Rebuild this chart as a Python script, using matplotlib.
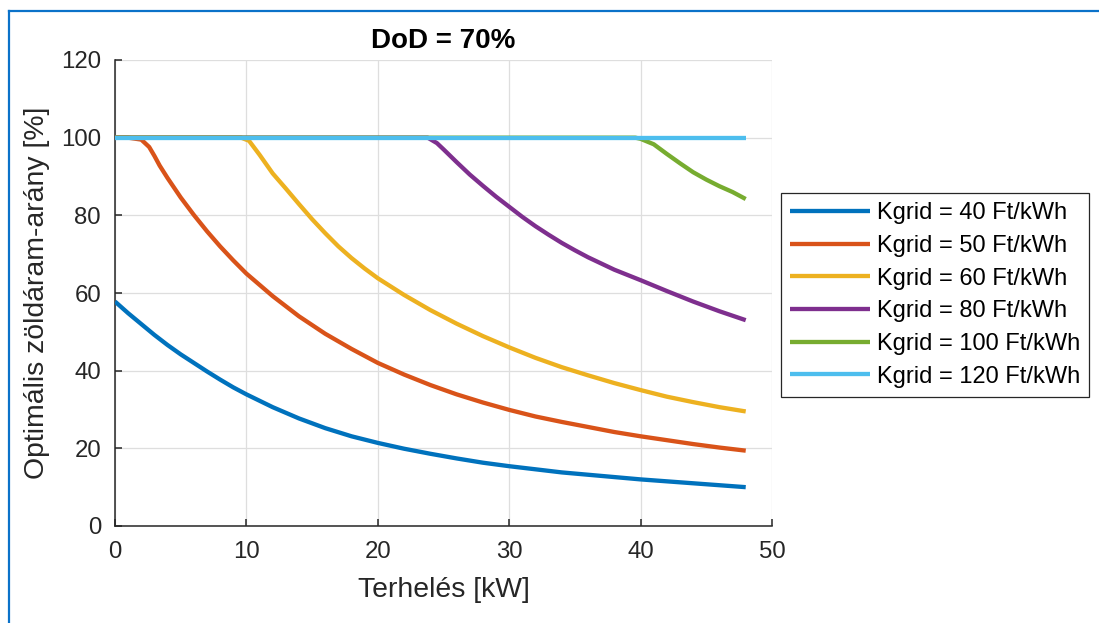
import matplotlib
matplotlib.use("Agg")
from matplotlib import pyplot as plt
from matplotlib.lines import Line2D

plt.rcParams["font.family"] = ["Liberation Sans", "DejaVu Sans"]

# Values
blue_x = [0, 1, 2, 3, 4, 5, 6, 7, 8, 9, 10, 12, 14, 16, 18, 20, 22, 24, 26, 28, 30, 32, 34, 36,
          38, 40, 42, 44, 46, 48]
blue_y = [57.8, 54.8, 52.0, 49.2, 46.6, 44.2, 42.0, 39.8, 37.7, 35.7, 33.9, 30.6, 27.7, 25.2,
          23.1, 21.4, 19.9, 18.6, 17.4, 16.3, 15.4, 14.6, 13.8, 13.2, 12.6, 12.0, 11.5, 11.0,
          10.5, 10.0]

orange_x = [0, 1, 2, 2.6, 3.0, 3.4, 4, 5, 6, 7, 8, 9, 10, 12, 14, 16, 18, 20, 22, 24, 26, 28,
            30, 32, 34, 36, 38, 40, 42, 44, 46, 48]
orange_y = [100, 100, 99.5, 97.6, 95.3, 92.8, 89.6, 84.6, 80.1, 75.9, 72.0, 68.4, 65.0, 59.2,
            54.0, 49.5, 45.6, 42.0, 39.0, 36.3, 33.9, 31.8, 29.9, 28.2, 26.8, 25.5, 24.2, 23.1,
            22.1, 21.1, 20.2, 19.4]

yellow_x = [0, 5, 9.6, 10.2, 11, 12, 13, 14, 15, 16, 17, 18, 19, 20, 22, 24, 26, 28, 30, 32,
            34, 36, 38, 40, 42, 44, 46, 48]
yellow_y = [100, 100, 100, 99.2, 95.6, 90.8, 86.9, 82.9, 79.0, 75.4, 72.0, 69.0, 66.3, 63.8,
            59.5, 55.6, 52.1, 48.9, 46.0, 43.3, 40.9, 38.8, 36.8, 35.0, 33.3, 31.9, 30.6, 29.5]

purple_x = [0, 10, 20, 23.8, 24.5, 25, 26, 27, 28, 29, 30, 31, 32, 33, 34, 35, 36, 38, 40, 42,
            44, 46, 48]
purple_y = [100, 100, 100, 100, 98.6, 97.0, 93.7, 90.5, 87.6, 84.8, 82.2, 79.6, 77.2, 75.0,
            72.9, 71.0, 69.2, 66.0, 63.3, 60.5, 57.8, 55.3, 53.0]

green_x = [0, 20, 39.6, 40, 41, 42, 43, 44, 45, 46, 47, 48]
green_y = [100, 100, 100, 99.7, 98.3, 95.8, 93.4, 91.1, 89.2, 87.5, 86.0, 84.2]

cyan_x = [0, 48]
cyan_y = [100, 100]

labels = ["Kgrid = 40 Ft/kWh", "Kgrid = 50 Ft/kWh", "Kgrid = 60 Ft/kWh",
          "Kgrid = 80 Ft/kWh", "Kgrid = 100 Ft/kWh", "Kgrid = 120 Ft/kWh"]
colors = ["#0072BD", "#D95319", "#EDB120", "#7E2F8E", "#77AC30", "#4DBEEE"]

series = [(blue_x, blue_y), (orange_x, orange_y), (yellow_x, yellow_y),
          (purple_x, purple_y), (green_x, green_y), (cyan_x, cyan_y)]

W, H = 1099, 623
fig = plt.figure(figsize=(W / 100, H / 100), dpi=100)
ax = fig.add_axes([115 / W, 1 - 526 / H, (772 - 115) / W, (526 - 60) / H])

for (xs, ys), c, lab in zip(series, colors, labels):
    ax.plot(xs, ys, color=c, lw=3.1, label=lab, solid_capstyle="butt",
            solid_joinstyle="round", zorder=3)

ax.set_xlim(0, 50)
ax.set_ylim(0, 120)
ax.set_xticks(range(0, 51, 10))
ax.set_yticks(range(0, 121, 20))
ax.grid(True, color="#dedede", lw=0.9, zorder=0)
ax.set_axisbelow(True)
for s in ["top", "right"]:
    ax.spines[s].set_visible(False)
for s in ["left", "bottom"]:
    ax.spines[s].set_color("#262626")
    ax.spines[s].set_linewidth(1.1)
ax.tick_params(direction="in", length=5, width=1.1, color="#262626",
               labelcolor="#262626", labelsize=17.3)
ax.tick_params(axis="x", pad=11)
ax.tick_params(axis="y", pad=10)

ax.set_xlabel("Terhelés [kW]", fontsize=20.4, color="#262626", labelpad=10)
ax.set_ylabel("Optimális zöldáram-arány [%]", fontsize=20.4, color="#262626", labelpad=8)
ax.set_title("DoD = 70%", fontsize=20, fontweight="bold", pad=9)

leg = ax.legend(loc="upper left", bbox_to_anchor=(781 / W, 1 - 193 / H),
                bbox_transform=fig.transFigure, fontsize=17, frameon=True,
                fancybox=False, edgecolor="#262626", framealpha=1,
                borderpad=0.4, handlelength=3.35, handletextpad=0.3,
                labelspacing=0.45, borderaxespad=0)
leg.get_frame().set_linewidth(0.9)

# blue selection frame around the figure (top and left edges)
fig.add_artist(Line2D([9 / W, 1], [1 - 10.5 / H, 1 - 10.5 / H], color="#0B72C9", lw=1.6,
                      transform=fig.transFigure))
fig.add_artist(Line2D([9 / W, 9 / W], [0, 1 - 10.5 / H], color="#0B72C9", lw=1.6,
                      transform=fig.transFigure))

fig.savefig("out.png", dpi=100)
